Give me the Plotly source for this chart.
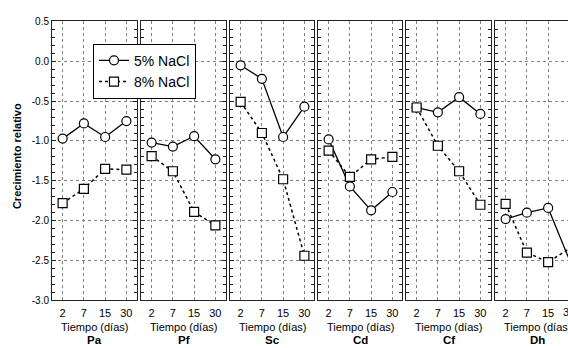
import plotly.graph_objects as go

# ---- data ----
days = ["2", "7", "15", "30"]
panels = ["Pa", "Pf", "Sc", "Cd", "Cf", "Dh"]
series_names = ["5% NaCl", "8% NaCl"]

nacl5 = {
    "Pa": [-0.97, -0.78, -0.95, -0.75],
    "Pf": [-1.02, -1.07, -0.94, -1.23],
    "Sc": [-0.05, -0.22, -0.95, -0.57],
    "Cd": [-0.98, -1.57, -1.87, -1.64],
    "Cf": [-0.58, -0.64, -0.45, -0.66],
    "Dh": [-1.98, -1.90, -1.84, -2.49],
}
nacl8 = {
    "Pa": [-1.78, -1.60, -1.35, -1.36],
    "Pf": [-1.19, -1.38, -1.89, -2.06],
    "Sc": [-0.51, -0.90, -1.48, -2.44],
    "Cd": [-1.12, -1.45, -1.23, -1.20],
    "Cf": [-0.58, -1.06, -1.38, -1.80],
    "Dh": [-1.79, -2.40, -2.52, -2.35],
}
y_ticks = [0.5, 0.0, -0.5, -1.0, -1.5, -2.0, -2.5, -3.0]
y_ticktext = ["0.5", "0.0", "-0.5", "-1.0", "-1.5", "-2.0", "-2.5", "-3.0"]
x_title = "Tiempo (días)"
y_title = "Crecimiento relativo"

# ---- layout geometry ----
W, H = 568, 348
panel_px = [(52, 137), (141, 226), (230, 314), (318, 402), (406, 491), (495, 568)]
plot_top, plot_bot = 17, 305
px_per_cat = 85 / 4.0

FONT = "Arial, Liberation Sans, sans-serif"
LINE_C = "#222"
GRID_C = "#808080"

fig = go.Figure()
layout = dict(
    width=W, height=H, margin=dict(l=0, r=0, t=0, b=0),
    paper_bgcolor="white", plot_bgcolor="white",
    font=dict(family=FONT, color="black"),
    showlegend=True,
    legend=dict(x=93 / W, y=1 - 40 / H, xanchor="left", yanchor="top",
                bgcolor="white", bordercolor="black", borderwidth=1,
                font=dict(size=14, family=FONT), tracegroupgap=0,
                itemwidth=30),
)
annotations = []
ydom = [(H - plot_bot) / H, (H - plot_top) / H]

for i, p in enumerate(panels):
    k = "" if i == 0 else str(i + 1)
    x0, x1 = panel_px[i]
    width_units = (x1 - x0) / px_per_cat
    xr = [-0.5, -0.5 + width_units]
    last = (i == len(panels) - 1)

    fig.add_trace(go.Scatter(
        x=list(range(len(days))), y=nacl5[p], mode="lines+markers",
        name=series_names[0], legendgroup="a", showlegend=(i == 0),
        line=dict(color="black", width=1.3),
        marker=dict(symbol="circle", size=9, color="white",
                    line=dict(color="black", width=1.2)),
        cliponaxis=False, xaxis="x" + k, yaxis="y" + k))
    fig.add_trace(go.Scatter(
        x=list(range(len(days))), y=nacl8[p], mode="lines+markers",
        name=series_names[1], legendgroup="b", showlegend=(i == 0),
        line=dict(color="black", width=1.5, dash="dot"),
        marker=dict(symbol="square", size=9, color="white",
                    line=dict(color="black", width=1.2)),
        cliponaxis=False, xaxis="x" + k, yaxis="y" + k))

    layout["xaxis" + k] = dict(
        domain=[x0 / W, x1 / W], range=xr, anchor="y" + k,
        tickvals=list(range(len(days))), ticktext=days,
        tickfont=dict(size=11, family=FONT, color="black"),
        ticks="", ticklabelstandoff=2,
        showgrid=True, gridcolor=GRID_C, griddash="dot", gridwidth=1,
        zeroline=False, showline=True, linecolor=LINE_C, linewidth=1,
        mirror=True, fixedrange=True)
    layout["yaxis" + k] = dict(
        domain=ydom, range=[-3.0, 0.5], anchor="x" + k,
        tickvals=y_ticks, ticktext=y_ticktext, showticklabels=(i == 0),
        tickfont=dict(size=10, family=FONT, color="black"),
        ticks="inside", ticklen=4, tickcolor=LINE_C,
        minor=dict(ticks="inside", ticklen=3, dtick=0.1, tickcolor=LINE_C,
                   showgrid=False),
        showgrid=True, gridcolor=GRID_C, griddash="dot", gridwidth=1,
        zeroline=False, showline=True, linecolor=LINE_C, linewidth=1,
        mirror=(False if last else "ticks"), fixedrange=True)

    annotations.append(dict(
        text=x_title, xref="x" + k, yref="paper", x=(len(days) - 1) / 2,
        y=1 - 332 / H, yanchor="middle", xanchor="center", showarrow=False,
        borderpad=0,
        font=dict(size=11, family=FONT, color="black")))
    annotations.append(dict(
        text="<b>" + p + "</b>", xref="x" + k, yref="paper", x=(len(days) - 1) / 2,
        y=1 - 345.5 / H, yanchor="middle", xanchor="center", showarrow=False,
        borderpad=0,
        font=dict(size=11.5, family=FONT, color="black")))
    if last:
        # category labels beyond the visible range (cut by the page edge)
        for j, d in enumerate(days):
            if j > xr[1]:
                xp = (x0 + (j - xr[0]) * px_per_cat) / W
                annotations.append(dict(
                    text=d, xref="paper", yref="paper", x=xp, y=1 - 317 / H,
                    yanchor="middle", xanchor="center", showarrow=False,
                    font=dict(size=11, family=FONT, color="black")))

annotations.append(dict(
    text="<b>" + y_title + "</b>", xref="paper", yref="paper",
    x=17 / W, y=1 - 156 / H, textangle=-90, showarrow=False,
    xanchor="center", yanchor="middle",
    font=dict(size=11, family=FONT, color="black")))

layout["annotations"] = annotations
fig.update_layout(**layout)
fig.write_html("out.html")
